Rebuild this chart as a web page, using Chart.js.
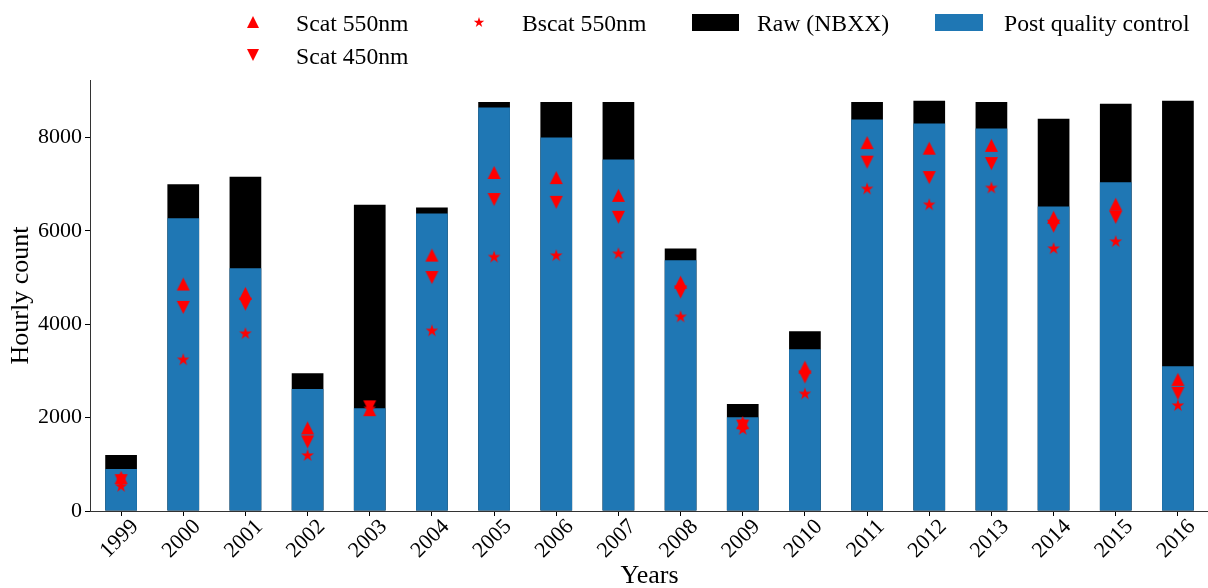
<!DOCTYPE html>
<html>
<head>
<meta charset="utf-8">
<script src="https://cdn.jsdelivr.net/npm/chart.js@4/dist/chart.umd.min.js"></script>
<style>
  html, body { margin: 0; padding: 0; background: #fff; overflow: hidden; }
  #wrap { position: relative; width: 1216px; height: 588px; }
  canvas { display: block; }
</style>
</head>
<body>
<div id="wrap"><canvas id="c" width="1216" height="588"></canvas></div>
<script>
// Hourly counts per year
const years = ['1999','2000','2001','2002','2003','2004','2005','2006','2007','2008','2009','2010','2011','2012','2013','2014','2015','2016'];
const rawCounts  = [1200, 7000, 7160, 2950, 6560, 6500, 8760, 8760, 8760, 5620, 2290, 3850, 8760, 8784, 8760, 8400, 8720, 8784];
const postQC     = [900, 6270, 5200, 2610, 2200, 6370, 8640, 8000, 7530, 5370, 2010, 3465, 8385, 8300, 8190, 6520, 7040, 3100];
const scat550    = [720, 4860, 4660, 1780, 2170, 5480, 7250, 7140, 6760, 4900, 1890, 3080, 7890, 7770, 7830, 6290, 6570, 2820];
const scat450    = [650, 4360, 4430, 1480, 2230, 5000, 6670, 6610, 6290, 4690, 1820, 2870, 7470, 7140, 7440, 6100, 6290, 2520];
const bscat550   = [540, 3250, 3810, 1200, 2200, 3870, 5450, 5480, 5520, 4170, 1760, 2520, 6910, 6570, 6930, 5630, 5780, 2270];
const yTicks     = [0, 2000, 4000, 6000, 8000];

const RED = '#ff0000';
const BLUE = '#1f77b4';
const SERIF = "'Liberation Serif', 'Times New Roman', serif";

// Marker glyphs drawn into small canvases and used as point styles
function markerCanvas(kind, size) {
  const c = document.createElement('canvas');
  c.width = size + 4; c.height = size + 4;
  const g = c.getContext('2d');
  const cx = c.width / 2, cy = c.height / 2, h = size / 2;
  g.fillStyle = RED;
  g.beginPath();
  if (kind === 'up') {
    g.moveTo(cx, cy - h); g.lineTo(cx + h, cy + h); g.lineTo(cx - h, cy + h);
  } else if (kind === 'down') {
    g.moveTo(cx, cy + h); g.lineTo(cx + h, cy - h); g.lineTo(cx - h, cy - h);
  } else {
    const ro = h * 1.1, ri = ro * 0.382;
    for (let i = 0; i < 10; i++) {
      const r = i % 2 === 0 ? ro : ri;
      const a = -Math.PI / 2 + i * Math.PI / 5;
      const x = cx + r * Math.cos(a), y = cy + r * Math.sin(a) + h * 0.1;
      if (i === 0) g.moveTo(x, y); else g.lineTo(x, y);
    }
  }
  g.closePath();
  g.fill();
  return c;
}
const upMark = markerCanvas('up', 13);
const downMark = markerCanvas('down', 13);
const starMark = markerCanvas('star', 12);
const upLeg = markerCanvas('up', 12);
const downLeg = markerCanvas('down', 12);
const starLeg = markerCanvas('star', 10);

// Two-row legend across the top
const topLegend = {
  id: 'topLegend',
  afterDraw(chart) {
    const ctx = chart.ctx;
    ctx.save();
    ctx.font = '23.7px ' + SERIF;
    ctx.fillStyle = '#000';
    ctx.textBaseline = 'alphabetic';
    ctx.textAlign = 'left';
    const putImg = (img, x, y) => ctx.drawImage(img, Math.round(x - img.width / 2), Math.round(y - img.height / 2));
    putImg(upLeg, 253, 22);
    ctx.fillText('Scat 550nm', 296, 31);
    putImg(downLeg, 253, 55);
    ctx.fillText('Scat 450nm', 296, 64);
    putImg(starLeg, 479, 22);
    ctx.fillText('Bscat 550nm', 522, 31);
    ctx.fillStyle = '#000';
    ctx.fillRect(692, 14, 47, 17);
    ctx.fillText('Raw (NBXX)', 757, 31);
    ctx.fillStyle = BLUE;
    ctx.fillRect(935, 14, 48, 17);
    ctx.fillStyle = '#000';
    ctx.fillText('Post quality control', 1004, 31);
    ctx.restore();
  }
};

const pointSet = (label, data, style) => ({
  type: 'line', label, data,
  showLine: false, pointStyle: style, pointRadius: 6, pointHoverRadius: 6,
  backgroundColor: RED, borderColor: RED, order: 0
});

new Chart(document.getElementById('c'), {
  type: 'bar',
  data: {
    labels: years,
    datasets: [
      pointSet('Scat 550nm', scat550, upMark),
      pointSet('Scat 450nm', scat450, downMark),
      pointSet('Bscat 550nm', bscat550, starMark),
      { label: 'Post quality control', data: postQC, backgroundColor: BLUE, grouped: false,
        barPercentage: 0.51, categoryPercentage: 1, order: 1 },
      { label: 'Raw (NBXX)', data: rawCounts, backgroundColor: '#000', grouped: false,
        barPercentage: 0.51, categoryPercentage: 1, order: 2 }
    ]
  },
  options: {
    responsive: false,
    devicePixelRatio: 1,
    animation: false,
    layout: { padding: { top: 80, right: 5, left: 0, bottom: 0 } },
    plugins: { legend: { display: false }, tooltip: { enabled: false } },
    scales: {
      x: {
        offset: true,
        grid: { display: true, offset: false, drawOnChartArea: false, drawTicks: true, tickLength: 5, color: '#000' },
        border: { display: true, color: '#333', width: 1 },
        ticks: {
          color: '#000', font: { family: SERIF, size: 22 },
          minRotation: 45, maxRotation: 45, autoSkip: false,
          labelOffset: 14, padding: -2
        },
        title: { display: true, text: 'Years', color: '#000',
                 font: { family: SERIF, size: 26, lineHeight: 0.9 }, padding: 0 },
        afterFit(s) { s.height = 77; }
      },
      y: {
        min: 0, max: 9230,
        grid: { display: true, drawOnChartArea: false, drawTicks: true, tickLength: 5, color: '#000' },
        border: { display: true, color: '#333', width: 1 },
        afterBuildTicks(s) { s.ticks = yTicks.map(v => ({ value: v })); },
        ticks: { color: '#000', font: { family: SERIF, size: 22 }, padding: 3,
                 callback: v => String(v) },
        title: { display: true, text: 'Hourly count', color: '#000',
                 font: { family: SERIF, size: 26, lineHeight: 1.2 }, padding: { top: 6, bottom: 0 } },
        afterFit(s) { s.width = 90; }
      }
    }
  },
  plugins: [topLegend]
});
</script>
</body>
</html>
